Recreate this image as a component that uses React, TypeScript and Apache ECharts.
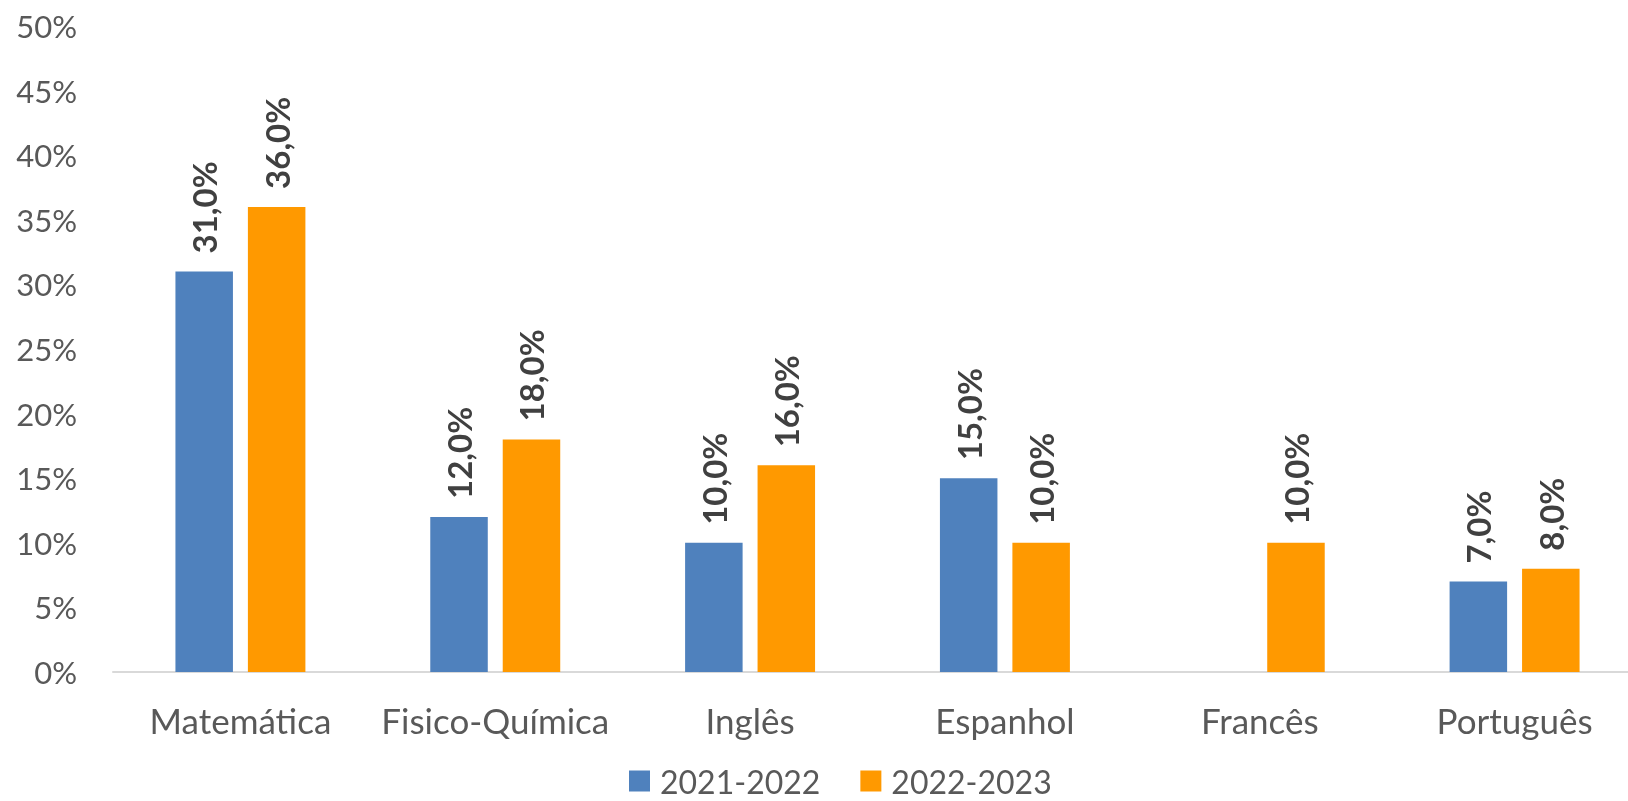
import React, { useEffect, useRef } from "react";
import * as echarts from "echarts";

const categories = ["Matemática", "Fisico-Química", "Inglês", "Espanhol", "Francês", "Português"];
const series2122: (number | null)[] = [31, 12, 10, 15, null, 7];
const series2223: (number | null)[] = [36, 18, 16, 10, 10, 8];
const seriesNames = ["2021-2022", "2022-2023"];
const yTicks = [0, 5, 10, 15, 20, 25, 30, 35, 40, 45, 50];

const FONT = "Lato";

export default function App() {
  const ref = useRef<HTMLDivElement>(null);
  useEffect(() => {
    if (!ref.current) return;
    const chart = echarts.init(ref.current, null, { renderer: "svg" });
    const label = {
      show: true,
      position: "top",
      rotate: 90,
      align: "left",
      verticalAlign: "middle",
      distance: 18,
      color: "#404040",
      fontFamily: FONT,
      fontWeight: "bold",
      fontSize: 33,
      formatter: (p: any) => p.value == null ? "" : p.value.toFixed(1).replace(".", ",") + "%",
    };
    chart.setOption({
      animation: false,
      textStyle: { fontFamily: FONT },
      grid: { left: 113, right: -14, top: 26, bottom: 129, containLabel: false, outerBoundsMode: "none" },
      legend: {
        data: seriesNames,
        bottom: 2,
        left: 629,
        itemWidth: 21,
        itemHeight: 21,
        itemGap: 40,
        icon: "rect",
        padding: 0,
        textStyle: { fontFamily: FONT, fontSize: 32, lineHeight: 36, color: "#595959", padding: [0, 0, 0, 5] },
      },
      xAxis: {
        type: "category",
        data: categories,
        axisLine: { show: true, lineStyle: { color: "#d9d9d9", width: 2 } },
        axisTick: { show: false },
        axisLabel: { color: "#595959", fontFamily: FONT, fontSize: 35, margin: 30, interval: 0, hideOverlap: false },
      },
      yAxis: {
        type: "value",
        min: 0,
        max: 50,
        interval: 5,
        axisLine: { show: false },
        axisTick: { show: false },
        splitLine: { show: false },
        axisLabel: {
          color: "#595959",
          fontFamily: FONT,
          fontSize: 31,
          margin: 36,
          formatter: (v: number) => (yTicks.includes(v) ? v + "%" : ""),
        },
      },
      series: [
        {
          name: seriesNames[0],
          type: "bar",
          data: series2122,
          itemStyle: { color: "#4F81BD" },
          barGap: "26%",
          barCategoryGap: "49%",
          label,
        },
        {
          name: seriesNames[1],
          type: "bar",
          data: series2223,
          itemStyle: { color: "#FF9900" },
          barGap: "26%",
          barCategoryGap: "49%",
          label,
        },
      ],
    });
    return () => chart.dispose();
  }, []);
  return <div ref={ref} style={{ position: "fixed", left: 0, top: 0, width: 1628, height: 801 }} />;
}
